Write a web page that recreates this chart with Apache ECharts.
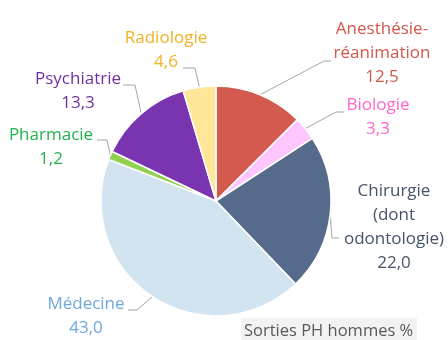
<!DOCTYPE html>
<html>
<head>
<meta charset="utf-8">
<script src="https://cdn.jsdelivr.net/npm/echarts@6/dist/echarts.min.js"></script>
<style>
  html, body { margin: 0; padding: 0; background: #fff; }
  #chart { width: 448px; height: 340px; }
</style>
</head>
<body>
<div id="chart"></div>
<script>
// Share of departures of male hospital practitioners, by specialty (%)
const categories = ['Anesthésie-\nréanimation', 'Biologie', 'Chirurgie\n(dont\nodontologie)', 'Médecine', 'Pharmacie', 'Psychiatrie', 'Radiologie'];
const values = [12.5, 3.3, 22.0, 43.0, 1.2, 13.3, 4.6];
const titleText = 'Sorties PH hommes %';

const sliceColors = ['#D25A4E', '#FFC6FF', '#566A8B', '#D3E4F1', '#92D050', '#7B34B0', '#FFE699'];
const labelColors = ['#D0574B', '#FF66CC', '#44546A', '#6FA8DC', '#22B14C', '#7030A0', '#F0B323'];

// Label block centres, leader-line elbows and ends (pixels)
const labelPlacement = [
  { cx: 382, cy: 53,  elbow: [324, 61],  end: [331, 61] },
  { cx: 378, cy: 117, elbow: [336, 112], end: [344, 112] },
  { cx: 394, cy: 227, elbow: [332, 238], end: [339, 238] },
  { cx: 86,  cy: 316, elbow: [137, 310], end: [128, 310] },
  { cx: 51,  cy: 147, elbow: [107, 140], end: [97, 140] },
  { cx: 78,  cy: 91,  elbow: [135, 85],  end: [123, 85] },
  { cx: 166, cy: 50,  elbow: [195, 68],  end: [183, 68] }
];

const FONT = '"Open Sans"';

const chart = echarts.init(document.getElementById('chart'), null, { renderer: 'canvas' });

const data = categories.map((name, i) => ({
  name: name,
  value: values[i],
  itemStyle: { color: sliceColors[i] },
  label: { color: labelColors[i] }
}));

chart.setOption({
  animation: false,
  backgroundColor: '#fff',
  title: {
    text: titleText,
    left: 241,
    top: 318,
    backgroundColor: '#F2F2F2',
    padding: [3, 4, 6, 3],
    textStyle: { fontFamily: FONT, fontSize: 16.5, lineHeight: 20, fontWeight: 'normal', color: '#595959' }
  },
  series: [{
    type: 'pie',
    center: [216, 201],
    radius: 115,
    startAngle: 90,
    clockwise: true,
    avoidLabelOverlap: false,
    minShowLabelAngle: 0,
    itemStyle: { borderColor: '#fff', borderWidth: 1.5 },
    label: {
      show: true,
      position: 'outside',
      fontFamily: FONT,
      fontSize: 17,
      lineHeight: 24,
      align: 'center',
      formatter: p => p.name + '\n' + p.value.toFixed(1).replace('.', ',')
    },
    labelLine: {
      show: true,
      length: 10,
      length2: 10,
      lineStyle: { color: '#A6A6A6', width: 1 }
    },
    labelLayout: function (params) {
      const pl = labelPlacement[params.dataIndex];
      const p0 = params.labelLinePoints ? params.labelLinePoints[0] : pl.elbow;
      return {
        x: pl.cx,
        y: pl.cy,
        align: 'center',
        verticalAlign: 'middle',
        labelLinePoints: [p0, pl.elbow, pl.end]
      };
    },
    data: data
  }]
});
</script>
</body>
</html>
